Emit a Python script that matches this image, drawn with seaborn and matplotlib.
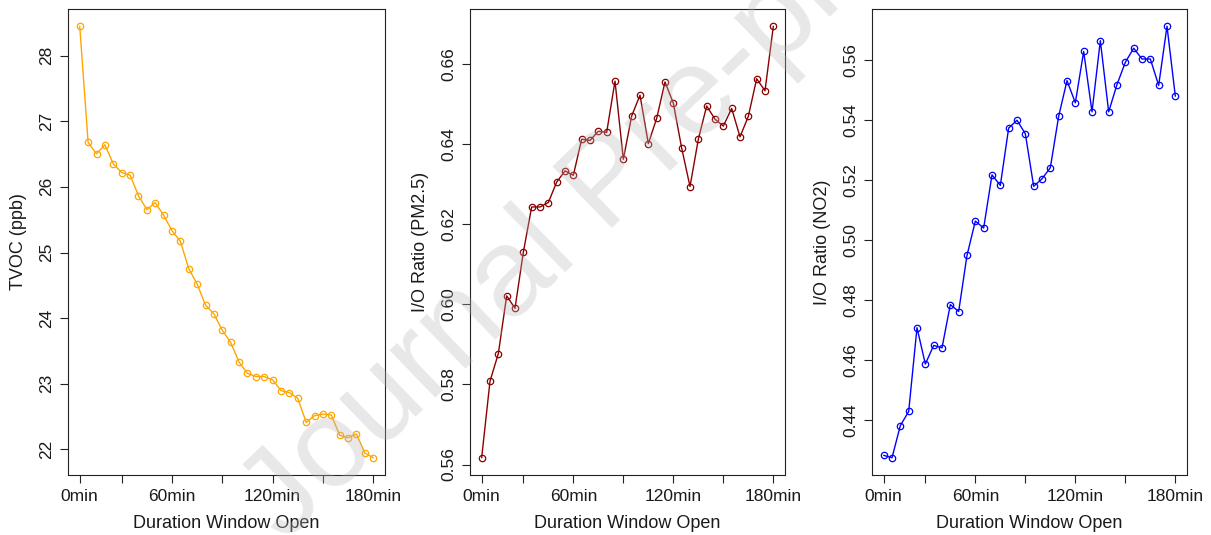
import matplotlib
matplotlib.use("Agg")
import matplotlib.pyplot as plt
import seaborn as sns
import pandas as pd

# ---- data ----
time_index = list(range(1, 37))
x_tick_positions = [1, 6, 12, 18, 24, 30, 36]
x_tick_labels = ["0min", "", "60min", "", "120min", "", "180min"]

tvoc_ppb = [28.447, 26.676, 26.504, 26.641, 26.351, 26.218, 26.178, 25.867,
            25.653, 25.760, 25.568, 25.333, 25.171, 24.754, 24.519, 24.198,
            24.066, 23.812, 23.629, 23.328, 23.160, 23.110, 23.110, 23.058,
            22.896, 22.865, 22.779, 22.412, 22.514, 22.539, 22.524, 22.214,
            22.179, 22.234, 21.944, 21.873]

pm25_io = [0.5617, 0.5808, 0.5877, 0.6021, 0.5990, 0.6130, 0.6243, 0.6243,
           0.6254, 0.6305, 0.6333, 0.6322, 0.6412, 0.6409, 0.6432, 0.6429,
           0.6557, 0.6362, 0.6470, 0.6522, 0.6401, 0.6464, 0.6555, 0.6502,
           0.6390, 0.6294, 0.6412, 0.6495, 0.6462, 0.6445, 0.6489, 0.6418,
           0.6469, 0.6563, 0.6533, 0.6694]

no2_io = [0.4282, 0.4274, 0.4381, 0.4428, 0.4707, 0.4586, 0.4648, 0.4640,
          0.4784, 0.4761, 0.4948, 0.5062, 0.5039, 0.5216, 0.5181, 0.5372,
          0.5398, 0.5353, 0.5178, 0.5203, 0.5240, 0.5411, 0.5530, 0.5456,
          0.5627, 0.5426, 0.5663, 0.5426, 0.5517, 0.5591, 0.5638, 0.5602,
          0.5602, 0.5514, 0.5711, 0.5478]

tvoc_ticks = [22, 23, 24, 25, 26, 27, 28]
pm25_ticks = [0.56, 0.58, 0.60, 0.62, 0.64, 0.66]
no2_ticks = [0.44, 0.46, 0.48, 0.50, 0.52, 0.54, 0.56]

panels = [
    ("TVOC (ppb)", tvoc_ppb, "#FFA500", tvoc_ticks, "{:.0f}"),
    ("I/O Ratio (PM2.5)", pm25_io, "#8B0000", pm25_ticks, "{:.2f}"),
    ("I/O Ratio (NO2)", no2_io, "#0000FF", no2_ticks, "{:.2f}"),
]

sns.set_style("white")
plt.rcParams["font.family"] = ["Liberation Sans", "DejaVu Sans"]

W, H = 1211, 535
fig = plt.figure(figsize=(W / 100, H / 100), dpi=100)

boxes = [(68, 317), (470, 315), (872, 315)]
top_px, bottom_px = 9, 475
text_col = "#1a1a1a"

for (left_px, width_px), (ylab, vals, col, yticks, fmt) in zip(boxes, panels):
    ax = fig.add_axes([left_px / W, (H - bottom_px) / H,
                       width_px / W, (bottom_px - top_px) / H])
    df = pd.DataFrame({"t": time_index, "v": vals})
    sns.lineplot(data=df, x="t", y="v", ax=ax, color=col, linewidth=1.0,
                 marker="o", markersize=4.6, markerfacecolor="none",
                 markeredgecolor=col, markeredgewidth=0.9)
    ax.margins(x=0.04, y=0.04)
    ax.set_xticks(x_tick_positions)
    ax.set_xticklabels(x_tick_labels)
    ax.set_yticks(yticks)
    ax.set_yticklabels([fmt.format(t) for t in yticks])
    ax.tick_params(axis="both", direction="out", length=6, width=0.8,
                   colors="#222222", labelsize=12.5, labelcolor=text_col, pad=4,
                   bottom=True, left=True)
    for lab in ax.get_yticklabels():
        lab.set_rotation(90)
        lab.set_va("center")
    for sp in ax.spines.values():
        sp.set_visible(True)
        sp.set_color("#222222")
        sp.set_linewidth(0.8)
    ax.set_xlabel("Duration Window Open", fontsize=13, color=text_col, labelpad=8)
    ax.set_ylabel(ylab, fontsize=13, color=text_col, labelpad=9)

# watermark of the source document
fig.text(285 / W, -8 / H, "Journal Pre-proof", rotation=44, fontsize=90,
         color="#b8b8b8", alpha=0.32, ha="left", va="baseline",
         rotation_mode="anchor", zorder=10)

fig.savefig("out.png", dpi=100)
